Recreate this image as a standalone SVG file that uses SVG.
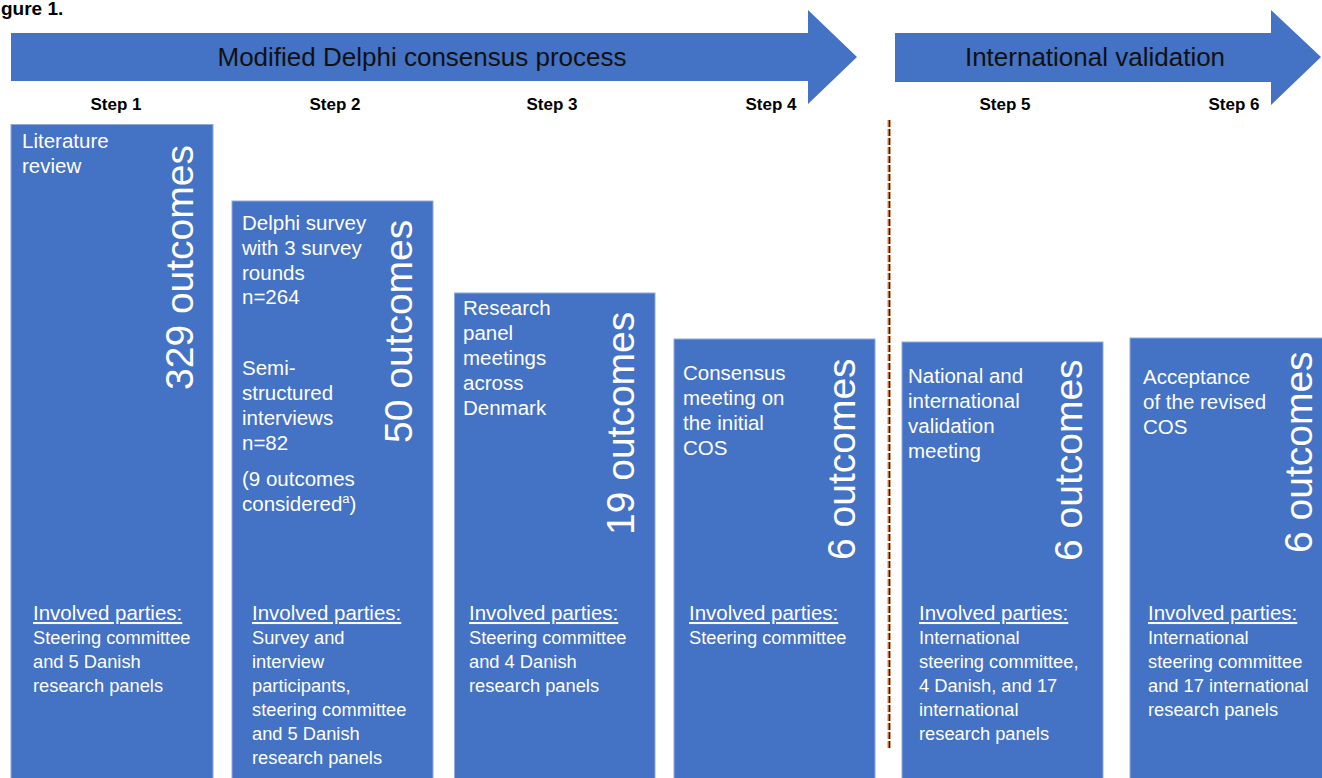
<svg xmlns="http://www.w3.org/2000/svg" width="1322" height="778" viewBox="0 0 1322 778">
<style>
.bg{fill:#ffffff}
.arrow{fill:#4472C4}
.box{fill:#4472C4;stroke:#8FAADC;stroke-width:1}
.title{font-family:"Liberation Sans",Arial,sans-serif;font-size:26px;fill:#111111;text-anchor:middle}
.step{font-family:"Liberation Sans",Arial,sans-serif;font-size:17px;font-weight:bold;fill:#000000;text-anchor:middle}
.fig{font-family:"Liberation Sans",Arial,sans-serif;font-size:19px;font-weight:bold;fill:#000000}
.desc{font-family:"Liberation Sans",Arial,sans-serif;font-size:20.5px;fill:#ffffff}
.count{font-family:"Liberation Sans",Arial,sans-serif;font-size:39px;fill:#ffffff}
.head{font-family:"Liberation Sans",Arial,sans-serif;font-size:20.5px;fill:#ffffff;text-decoration:underline}
.party{font-family:"Liberation Sans",Arial,sans-serif;font-size:18.3px;fill:#ffffff}
</style>
<rect class="bg" x="0" y="0" width="1322" height="778"/>
<text class="fig" x="1" y="15">gure 1.</text>

<g id="arrow-delphi">
<path class="arrow" d="M11,33 H808 V10 L857,57 L808,104 V81 H11 Z"/>
<text class="title" x="422" y="66">Modified Delphi consensus process</text>
</g>
<g id="arrow-validation">
<path class="arrow" d="M895,33 H1271 V10 L1321,57 L1271,105 V82 H895 Z"/>
<text class="title" x="1095" y="66">International validation</text>
</g>

<g id="step-labels">
<text class="step" x="116" y="110">Step 1</text>
<text class="step" x="335" y="110">Step 2</text>
<text class="step" x="552" y="110">Step 3</text>
<text class="step" x="771" y="110">Step 4</text>
<text class="step" x="1005" y="110">Step 5</text>
<text class="step" x="1234" y="110">Step 6</text>
</g>

<g id="divider">
<line x1="889" y1="120" x2="889" y2="750" stroke="#ED7D31" stroke-width="3" stroke-dasharray="7,2"/>
<line x1="889.5" y1="120" x2="889.5" y2="750" stroke="#1F1F1F" stroke-width="1.4" stroke-dasharray="7,2"/>
</g>

<g id="step1">
<rect class="box" x="11" y="124.5" width="202" height="660"/>
<text class="desc" x="22" y="148">Literature</text>
<text class="desc" x="22" y="173">review</text>
<text class="count" transform="translate(193,390) rotate(-90)">329 outcomes</text>
<text class="head" x="33" y="620">Involved parties:</text>
<text class="party" x="33" y="644">Steering committee</text>
<text class="party" x="33" y="668">and 5 Danish</text>
<text class="party" x="33" y="692">research panels</text>
</g>

<g id="step2">
<rect class="box" x="232" y="201" width="201" height="590"/>
<text class="desc" x="242" y="230">Delphi survey</text>
<text class="desc" x="242" y="255">with 3 survey</text>
<text class="desc" x="242" y="280">rounds</text>
<text class="desc" x="242" y="304">n=264</text>
<text class="desc" x="242" y="375">Semi-</text>
<text class="desc" x="242" y="400">structured</text>
<text class="desc" x="242" y="425">interviews</text>
<text class="desc" x="242" y="450">n=82</text>
<text class="desc" x="242" y="486">(9 outcomes</text>
<text class="desc" x="242" y="511">considered<tspan font-size="13" dy="-8">a</tspan><tspan dy="8">)</tspan></text>
<text class="count" transform="translate(412,443) rotate(-90)">50 outcomes</text>
<text class="head" x="252" y="620">Involved parties:</text>
<text class="party" x="252" y="644">Survey and</text>
<text class="party" x="252" y="668">interview</text>
<text class="party" x="252" y="692">participants,</text>
<text class="party" x="252" y="716">steering committee</text>
<text class="party" x="252" y="740">and 5 Danish</text>
<text class="party" x="252" y="764">research panels</text>
</g>

<g id="step3">
<rect class="box" x="454.5" y="293" width="200.5" height="500"/>
<text class="desc" x="463" y="315">Research</text>
<text class="desc" x="463" y="340">panel</text>
<text class="desc" x="463" y="365">meetings</text>
<text class="desc" x="463" y="390">across</text>
<text class="desc" x="463" y="415">Denmark</text>
<text class="count" transform="translate(634,535) rotate(-90)">19 outcomes</text>
<text class="head" x="469" y="620">Involved parties:</text>
<text class="party" x="469" y="644">Steering committee</text>
<text class="party" x="469" y="668">and 4 Danish</text>
<text class="party" x="469" y="692">research panels</text>
</g>

<g id="step4">
<rect class="box" x="674" y="339" width="201" height="450"/>
<text class="desc" x="683" y="380">Consensus</text>
<text class="desc" x="683" y="405">meeting on</text>
<text class="desc" x="683" y="430">the initial</text>
<text class="desc" x="683" y="455">COS</text>
<text class="count" transform="translate(855,560) rotate(-90)">6 outcomes</text>
<text class="head" x="689" y="620">Involved parties:</text>
<text class="party" x="689" y="644">Steering committee</text>
</g>

<g id="step5">
<rect class="box" x="902" y="342" width="201" height="450"/>
<text class="desc" x="908" y="383">National and</text>
<text class="desc" x="908" y="408">international</text>
<text class="desc" x="908" y="433">validation</text>
<text class="desc" x="908" y="458">meeting</text>
<text class="count" transform="translate(1082,561) rotate(-90)">6 outcomes</text>
<text class="head" x="919" y="620">Involved parties:</text>
<text class="party" x="919" y="644">International</text>
<text class="party" x="919" y="668">steering committee,</text>
<text class="party" x="919" y="692">4 Danish, and 17</text>
<text class="party" x="919" y="716">international</text>
<text class="party" x="919" y="740">research panels</text>
</g>

<g id="step6">
<rect class="box" x="1130" y="338" width="200" height="450"/>
<text class="desc" x="1143" y="384">Acceptance</text>
<text class="desc" x="1143" y="409">of the revised</text>
<text class="desc" x="1143" y="434">COS</text>
<text class="count" transform="translate(1312,553) rotate(-90)">6 outcomes</text>
<text class="head" x="1148" y="620">Involved parties:</text>
<text class="party" x="1148" y="644">International</text>
<text class="party" x="1148" y="668">steering committee</text>
<text class="party" x="1148" y="692">and 17 international</text>
<text class="party" x="1148" y="716">research panels</text>
</g>
</svg>
